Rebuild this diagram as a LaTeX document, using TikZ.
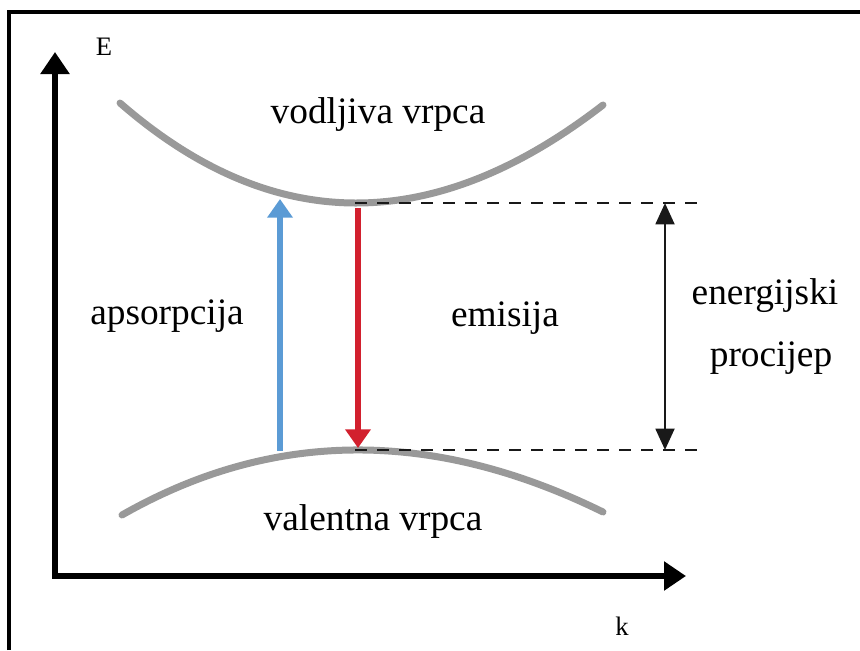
\documentclass[tikz,border=0pt]{standalone}
\usepackage{fontspec}
\setmainfont{Liberation Serif}
\usetikzlibrary{arrows.meta}
\definecolor{bandgray}{HTML}{999999}
\definecolor{absblue}{HTML}{5B9BD5}
\definecolor{emired}{HTML}{D2202E}
\tikzset{
  frameline/.style={line width=3pt, black},
  axisline/.style={line width=4.5pt, black, -{Triangle[width=21pt,length=16.5pt]}},
  bandcurve/.style={line width=5.25pt, bandgray, line cap=round},
  transarrow/.style={line width=4pt, -{Triangle[width=18.5pt,length=14pt]}},
  levelline/.style={line width=2.2pt, black!90, dash pattern=on 9pt off 7.5pt},
  gaparrow/.style={line width=2.2pt, black!90, {Triangle[width=14pt,length=16pt]}-{Triangle[width=14pt,length=16pt]}},
  bigtext/.style={font=\fontsize{28}{32}\selectfont, inner sep=0pt},
  axtext/.style={font=\fontsize{20}{24}\selectfont, inner sep=0pt}
}
\begin{document}
\begin{tikzpicture}[x=0.75pt,y=-0.75pt]
\useasboundingbox (0,0) rectangle (860,650);
% frame (top and left only visible)
\coordinate (fbl) at (9,650);
\coordinate (ftl) at (9,12);
\coordinate (ftr) at (860,12);
\draw[frameline] (fbl) -- (ftl) -- (ftr);
% axes
\coordinate (origin) at (55,576);
\coordinate (ytip) at (55,52);
\coordinate (xtip) at (686,576);
\draw[axisline] ([yshift=-2.2pt]origin) -- (ytip);
\draw[axisline] ([xshift=-2.2pt]origin) -- (xtip);
\node[axtext] (E) at (104,47) {E};
\node[axtext] (k) at (622,626) {k};
% bands
\coordinate (cbL) at (120,103);
\coordinate (cbR) at (603,105);
\coordinate (vbL) at (122,515);
\coordinate (vbR) at (603,512);
\draw[bandcurve] (cbL) .. controls (272.3,235.7) and (433.3,236.3) .. (cbR);
\draw[bandcurve] (vbL) .. controls (272.3,429.3) and (432.7,428.3) .. (vbR);
% levels
\coordinate (cbmin) at (355,203);
\coordinate (cbend) at (705,203);
\coordinate (vbmax) at (355,450);
\coordinate (vbend) at (705,450);
\draw[levelline] (cbmin) -- (cbend);
\draw[levelline] (vbmax) -- (vbend);
% transitions
\coordinate (absS) at (280,451);
\coordinate (absE) at (280,199);
\coordinate (emiS) at (358,208);
\coordinate (emiE) at (358,448);
\draw[transarrow, absblue] (absS) -- (absE);
\draw[transarrow, emired] (emiS) -- (emiE);
% gap arrow
\coordinate (gapT) at (665,203);
\coordinate (gapB) at (665,450);
\draw[gaparrow] (gapT) -- (gapB);
% labels
\node[bigtext] (cb) at (378,115) {vodljiva vrpca};
\node[bigtext] (vb) at (373,522) {valentna vrpca};
\node[bigtext] (abs) at (167,316) {apsorpcija};
\node[bigtext] (emi) at (505,318) {emisija};
\node[bigtext] (eg1) at (765,296) {energijski};
\node[bigtext] (eg2) at (771,358) {procijep};
\end{tikzpicture}
\end{document}
